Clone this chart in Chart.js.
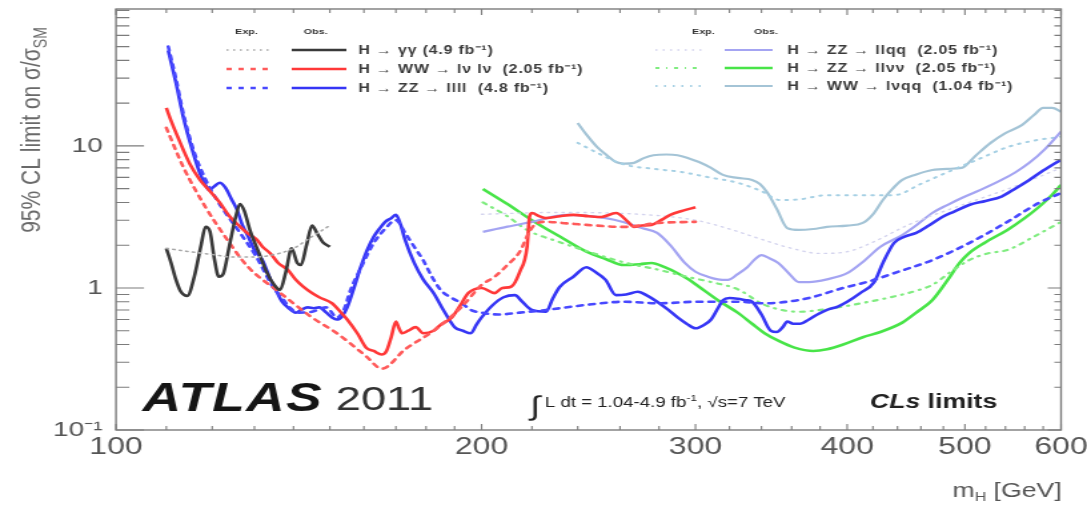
<!DOCTYPE html>
<html>
<head>
<meta charset="utf-8">
<script src="https://cdn.jsdelivr.net/npm/chart.js@4/dist/chart.umd.min.js"></script>
<style>
  html, body { margin: 0; padding: 0; background: #fff; overflow: hidden; }
  /* the figure is laid out on a narrow canvas and widened to the page */
  #wrap { width: 816px; height: 505px; transform: scaleX(1.33211); transform-origin: 0 0; }
  canvas { display: block; }
</style>
</head>
<body>
<div id="wrap"><canvas id="limits" width="816" height="505"></canvas></div>
<script>
// ---- axes ----
const massTicks = [100,110,120,130,140,150,160,170,180,190,200,220,240,260,280,300,320,340,360,380,400,420,440,460,480,500,520,540,560,580,600];
const massLabels = [100,200,300,400,500,600];
const limitTicks = [0.1, 1, 10];
const limitLabels = ['10\u207B\u00B9', '1', '10'];

// ---- H -> gamma gamma (4.9 fb-1) ----
const ggObsMass = [110,111,112,113,114.5,116,117.5,118.5,119.5,120.5,121.5,122.5,124,125.5,126.5,127.5,129,131,133,135,136.5,138,139.5,141,142,143.5,145,146.5,148,150];
const ggObs     = [1.9,1.5,1.15,0.95,0.88,1.2,2.0,2.7,2.5,1.6,1.2,1.25,2.0,3.2,3.9,3.5,2.5,1.8,1.3,1.05,0.97,1.3,1.9,1.5,1.45,2.0,2.75,2.4,2.1,1.95];
const ggExpMass = [110,115,120,125,130,135,140,145,150];
const ggExp     = [1.9,1.8,1.72,1.65,1.65,1.72,1.9,2.3,2.75];

// ---- H -> WW -> lvlv (2.05 fb-1) ----
const wwObsMass = [110,111,113.6,115,117.2,119.5,121.7,124,126.5,128.5,130.5,132,134,136,138.5,140.5,142.6,145,147,150.6,153,155,158,160.7,163,165.5,167,168.5,170,171,172,174,176.5,179,182.6,185,189,192,195,200,205,208,211.5,215,218,219,220,223,226,232,238,245,251,258,264,267,271,276,281,286,293,300];
const wwObs     = [18.5,15,9.4,7.5,5.8,4.8,4.0,3.2,2.7,2.4,2.2,1.95,1.75,1.5,1.34,1.15,1.02,0.92,0.86,0.78,0.68,0.6,0.48,0.38,0.36,0.34,0.36,0.45,0.58,0.52,0.48,0.5,0.53,0.48,0.5,0.55,0.62,0.75,0.92,1.0,0.92,1.0,1.02,1.3,1.95,3.17,3.37,3.2,3.1,3.2,3.27,3.2,3.16,3.37,2.92,2.69,2.75,2.78,3.0,3.27,3.5,3.7];
const wwExpMass = [110,113.6,118.5,123,128.5,136.6,145,152,160.7,165.5,173,182.6,192.7,200,205,210,215,219,222,226,235,244,262,280,300];
const wwExp     = [13.4,7.1,3.7,2.29,1.4,0.92,0.62,0.48,0.33,0.27,0.37,0.5,0.74,1.05,1.2,1.45,1.8,2.5,2.85,2.92,2.85,2.78,2.69,2.87,2.92];

// ---- H -> ZZ -> llll (4.8 fb-1) ----
const zz4lObsMass = [110.4,112,113.6,115.5,117.2,118.5,119.3,120.5,121.7,123,124.5,125.8,127,128.5,130,132,134,135.8,137,138.5,140.6,142,143.8,145.5,147,149,150.6,152,153.5,155,157,159,161,163,165,166.6,168.5,170,171.5,173,176,179,182.6,186,190,193,196,198,200,204,208.5,213,216,220,226,229,232,238,244,248,253,258,263,269,274,279,285,290,295,300,305,309,313,316,320,325,330,334,340,346,350,354,357,361,366,372,378,385,393,400,410,421,428,437,446,456,467,479,490,504,520,536,550,565,580,600];
const zz4lObs     = [47,28,16,9.5,6.45,5.3,4.9,5.2,5.5,5.1,4.2,3.54,2.8,2.29,1.85,1.57,1.15,0.92,0.8,0.73,0.67,0.7,0.73,0.72,0.73,0.67,0.62,0.6,0.63,0.73,1.0,1.4,1.85,2.29,2.65,2.92,3.1,3.27,2.8,2.18,1.5,1.15,0.92,0.7,0.53,0.5,0.48,0.55,0.62,0.75,0.86,0.89,0.8,0.7,0.68,0.85,1.02,1.2,1.4,1.3,1.14,0.89,0.9,0.94,0.88,0.8,0.7,0.62,0.56,0.52,0.55,0.6,0.72,0.82,0.85,0.84,0.82,0.8,0.65,0.5,0.49,0.53,0.58,0.56,0.56,0.6,0.65,0.7,0.74,0.8,0.92,1.1,1.5,2.07,2.3,2.44,2.75,3.16,3.45,3.84,4.1,4.4,5.0,5.76,6.7,8.0];
const zz4lExpMass = [110.4,112,113.6,116,118.5,121,123,126.5,130.5,134.6,137,139,141,145,149,152,154,156,159.5,163,166.5,170,173,176,179,182,185,189,192.7,196,200,206.5,215,226,244,262,280,302,325,342,357,372,397,418,437,470,504,542,575,600];
const zz4lExp     = [50,30,17,9,5.8,4.2,3.4,2.44,1.65,1.02,0.85,0.73,0.67,0.68,0.73,0.62,0.7,0.97,1.45,2.07,2.6,3.0,2.44,1.95,1.57,1.2,0.97,0.85,0.78,0.7,0.67,0.65,0.67,0.7,0.76,0.8,0.78,0.8,0.8,0.78,0.8,0.85,1.0,1.12,1.27,1.57,2.07,2.92,3.96,4.66];

// ---- H -> ZZ -> llqq (2.05 fb-1) ----
const llqqObsMass = [200.5,210,220,235,253,262,271,279,286,294,300,307,313,319,325,331,336,340,345,351,358,365,372,385,400,413,426,444,457,470,484,497,515,536,550,565,582,600];
const llqqObs     = [2.48,2.7,2.92,3.27,3.1,2.9,2.64,2.44,2.0,1.5,1.3,1.2,1.15,1.14,1.25,1.4,1.6,1.7,1.62,1.5,1.27,1.1,1.1,1.15,1.27,1.55,1.95,2.36,2.8,3.37,3.85,4.3,4.9,5.76,6.5,7.6,9.5,12.6];
const llqqExpMass = [200,230,270,300,320,340,360,380,400,420,450,500,550,600];
const llqqExp     = [3.3,3.4,3.3,3.0,2.6,2.2,1.9,1.75,1.8,2.1,2.8,3.9,5.2,7.0];

// ---- H -> ZZ -> llvv (2.05 fb-1) ----
const llvvObsMass = [200.5,210,220,232,244,253,262,270,276,283,290,296,302,313,325,334,342,352,362,375,385,397,412,426,444,457,470,484,495,504,520,542,560,575,588,600];
const llvvObs     = [4.98,3.9,3.0,2.3,1.8,1.6,1.45,1.47,1.5,1.4,1.27,1.15,1.02,0.82,0.67,0.56,0.48,0.42,0.38,0.36,0.37,0.4,0.45,0.49,0.57,0.68,0.82,1.14,1.5,1.76,2.1,2.56,3.1,3.7,4.4,5.3];
const llvvExpMass = [200.5,210,218,232,247,263,280,295,309,325,342,365,380,397,417,437,455,470,487,504,522,542,570,600];
const llvvExp     = [4.0,3.2,2.56,2.1,1.76,1.5,1.34,1.2,1.1,0.98,0.76,0.68,0.7,0.74,0.8,0.87,0.95,1.05,1.3,1.57,1.75,1.85,2.3,2.92];

// ---- H -> WW -> lvqq (1.04 fb-1) ----
const lvqqObsMass = [240,244,249,254,258,262,267,272,277,284,290,296,302,309,316,325,334,339,344,350,357,365,375,385,400,412,420,428,436,444,456,470,484,497,510,525,540,557,570,580,590,600];
const lvqqObs     = [14.5,12,9.8,8.5,7.7,7.5,7.6,8.2,8.6,8.7,8.6,8.2,7.7,7.0,6.25,5.95,5.76,5.4,4.66,3.6,2.64,2.56,2.6,2.69,2.75,2.87,3.3,4.16,5.0,5.76,6.3,6.77,6.9,7.0,8.5,10.5,12.3,14,16.5,18.5,18.5,17.4];
const lvqqExpMass = [240,250,262,277,292,308,325,340,352,365,385,410,437,460,484,512,542,570,600];
const lvqqExp     = [10.5,8.8,7.4,6.9,6.55,6.0,5.5,4.8,4.16,4.2,4.5,4.5,4.5,5.4,6.55,8.0,9.8,10.9,11.6];

const FONT = "'Liberation Sans', Arial, Helvetica, sans-serif";

function pts(xs, ys) { return xs.map((x, i) => ({ x: x, y: ys[i] })); }

// each channel: legend text, expected style, observed style
const channels = [
  { name: 'H \u2192 \u03B3\u03B3 (4.9 fb\u207B\u00B9)', block: 0, row: 0,
    exp: { m: ggExpMass, v: ggExp, color: '#a8a8a8', width: 1.6, dash: [1.5, 3.5] },
    obs: { m: ggObsMass, v: ggObs, color: '#3a3a3a', width: 2.6 } },
  { name: 'H \u2192 WW \u2192 l\u03BD l\u03BD  (2.05 fb\u207B\u00B9)', block: 0, row: 1,
    exp: { m: wwExpMass, v: wwExp, color: '#ff5a5a', width: 2.6, dash: [4, 5] },
    obs: { m: wwObsMass, v: wwObs, color: '#ff3838', width: 2.6 } },
  { name: 'H \u2192 ZZ \u2192 llll  (4.8 fb\u207B\u00B9)', block: 0, row: 2,
    exp: { m: zz4lExpMass, v: zz4lExp, color: '#4848ff', width: 2.6, dash: [4, 5] },
    obs: { m: zz4lObsMass, v: zz4lObs, color: '#3636f5', width: 2.6 } },
  { name: 'H \u2192 ZZ \u2192 llqq  (2.05 fb\u207B\u00B9)', block: 1, row: 0,
    exp: { m: llqqExpMass, v: llqqExp, color: '#d4d4ee', width: 1.4, dash: [1.5, 4] },
    obs: { m: llqqObsMass, v: llqqObs, color: '#a4a4f2', width: 2.2 } },
  { name: 'H \u2192 ZZ \u2192 ll\u03BD\u03BD  (2.05 fb\u207B\u00B9)', block: 1, row: 1,
    exp: { m: llvvExpMass, v: llvvExp, color: '#80ec80', width: 2.2, dash: [3, 5, 1, 5] },
    obs: { m: llvvObsMass, v: llvvObs, color: '#48e448', width: 2.6 } },
  { name: 'H \u2192 WW \u2192 l\u03BDqq  (1.04 fb\u207B\u00B9)', block: 1, row: 2,
    exp: { m: lvqqExpMass, v: lvqqExp, color: '#a6d0e4', width: 2, dash: [1.5, 5] },
    obs: { m: lvqqObsMass, v: lvqqObs, color: '#a4c4d6', width: 2.2 } }
];

const datasets = [];
channels.forEach(c => {
  datasets.push({ label: c.name + ' expected', data: pts(c.exp.m, c.exp.v), borderColor: c.exp.color,
    borderWidth: c.exp.width, borderDash: c.exp.dash, pointRadius: 0, fill: false,
    cubicInterpolationMode: 'monotone', borderCapStyle: 'round' });
  datasets.push({ label: c.name + ' observed', data: pts(c.obs.m, c.obs.v), borderColor: c.obs.color,
    borderWidth: c.obs.width, pointRadius: 0, fill: false,
    cubicInterpolationMode: 'monotone', borderJoinStyle: 'round' });
});

// frame with inward tick marks on all four sides
const framePlugin = {
  id: 'frame',
  afterDatasetsDraw(chart) {
    const { ctx, chartArea: a, scales } = chart;
    const xs = scales.x, ys = scales.y;
    ctx.save();
    ctx.strokeStyle = '#7c7c7c';
    ctx.lineWidth = 1.4;
    ctx.strokeRect(a.left, a.top, a.right - a.left, a.bottom - a.top);
    ctx.lineWidth = 1.1;
    ctx.beginPath();
    massTicks.forEach(m => {
      const px = xs.getPixelForValue(m);
      const len = massLabels.includes(m) ? 6 : 4;
      ctx.moveTo(px, a.bottom); ctx.lineTo(px, a.bottom - len);
      ctx.moveTo(px, a.top); ctx.lineTo(px, a.top + len);
    });
    [0.1, 1, 10].forEach(d => {
      for (let k = 1; k <= 9; k++) {
        const v = k * d;
        if (v > ys.max) break;
        const py = ys.getPixelForValue(v);
        const major = k === 1;
        ctx.moveTo(a.left, py); ctx.lineTo(a.left + (major ? 21 : 10), py);
        ctx.moveTo(a.right, py); ctx.lineTo(a.right - (major ? 10 : 5), py);
      }
    });
    ctx.stroke();
    ctx.restore();
  }
};

// draws a run of text pieces (normal / sub / super) starting at x
function drawRich(ctx, pieces, x, y) {
  pieces.forEach(p => {
    ctx.font = p.font;
    const dy = p.shift || 0;
    ctx.fillText(p.t, x, y + dy);
    x += ctx.measureText(p.t).width;
  });
  return x;
}
function richWidth(ctx, pieces) {
  let w = 0;
  pieces.forEach(p => { ctx.font = p.font; w += ctx.measureText(p.t).width; });
  return w;
}

const textPlugin = {
  id: 'texts',
  afterDraw(chart) {
    const { ctx } = chart;
    ctx.save();
    ctx.textBaseline = 'alphabetic';
    ctx.textAlign = 'left';

    // y axis title
    ctx.fillStyle = '#6a6a6a';
    const yTitle = [
      { t: '95% CL limit on \u03C3/\u03C3', font: '21px ' + FONT },
      { t: 'SM', font: '14px ' + FONT, shift: 5 }
    ];
    ctx.save();
    ctx.translate(30, 130);
    ctx.rotate(-Math.PI / 2);
    drawRich(ctx, yTitle, -richWidth(ctx, yTitle) / 2, 0);
    ctx.restore();

    // x axis title
    ctx.fillStyle = '#555';
    const xTitle = [
      { t: 'm', font: '20px ' + FONT },
      { t: 'H', font: '12px ' + FONT, shift: 4 },
      { t: ' [GeV]', font: '20px ' + FONT }
    ];
    drawRich(ctx, xTitle, 797 - richWidth(ctx, xTitle), 497);

    // experiment label
    ctx.fillStyle = '#151515';
    ctx.font = 'italic bold 40px ' + FONT;
    ctx.letterSpacing = '1px';
    ctx.fillText('ATLAS', 107, 411);
    ctx.letterSpacing = '0px';
    ctx.font = '34px ' + FONT;
    ctx.fillStyle = '#333';
    ctx.fillText('2011', 252, 410);

    // luminosity and energy
    ctx.fillStyle = '#222';
    ctx.font = '27px ' + FONT;
    ctx.fillText('\u222B', 398, 415);
    drawRich(ctx, [
      { t: 'L dt = 1.04-4.9 fb', font: '14px ' + FONT },
      { t: '-1', font: '9px ' + FONT, shift: -6 },
      { t: ', \u221As=7 TeV', font: '14px ' + FONT }
    ], 409, 407);

    ctx.fillStyle = '#222';
    drawRich(ctx, [
      { t: 'CLs', font: 'italic bold 20px ' + FONT },
      { t: ' limits', font: 'bold 20px ' + FONT }
    ], 653, 408);

    // legend
    const blocks = [
      { exp: [170, 205], obs: [219, 260], text: 269, hdr: [185, 237], rows: [50, 69, 88] },
      { exp: [492, 528], obs: [544, 580], text: 591, hdr: [528, 575], rows: [50, 68, 86] }
    ];
    ctx.fillStyle = '#333';
    ctx.font = 'bold 8px ' + FONT;
    ctx.textAlign = 'center';
    blocks.forEach(b => {
      ctx.fillText('Exp.', b.hdr[0], 34);
      ctx.fillText('Obs.', b.hdr[1], 34);
    });
    ctx.textAlign = 'left';
    channels.forEach((c, i) => {
      const b = blocks[c.block];
      const y = b.rows[c.row];
      const e = chart.data.datasets[2 * i], o = chart.data.datasets[2 * i + 1];
      ctx.beginPath();
      ctx.setLineDash(e.borderDash || []);
      ctx.strokeStyle = e.borderColor;
      ctx.lineWidth = e.borderWidth;
      ctx.moveTo(b.exp[0], y); ctx.lineTo(b.exp[1], y);
      ctx.stroke();
      ctx.beginPath();
      ctx.setLineDash([]);
      ctx.strokeStyle = o.borderColor;
      ctx.lineWidth = o.borderWidth;
      ctx.moveTo(b.obs[0], y); ctx.lineTo(b.obs[1], y);
      ctx.stroke();
      ctx.fillStyle = '#3a3a3a';
      ctx.font = 'bold 12px ' + FONT;
      ctx.letterSpacing = '0.6px';
      ctx.fillText(c.name, b.text, y + 4);
      ctx.letterSpacing = '0px';
    });
    ctx.restore();
  }
};

new Chart(document.getElementById('limits'), {
  type: 'line',
  data: { datasets: datasets },
  options: {
    responsive: false,
    animation: false,
    devicePixelRatio: 1,
    layout: { padding: { left: 0, right: 19.5, top: 9, bottom: 0 } },
    plugins: { legend: { display: false }, tooltip: { enabled: false } },
    scales: {
      x: {
        type: 'logarithmic', min: 100, max: 600,
        grid: { display: false, drawTicks: false }, border: { display: false },
        afterBuildTicks: s => { s.ticks = massTicks.map(v => ({ value: v })); },
        afterFit: s => { s.height = 75; s.paddingLeft = 0; s.paddingRight = 0; },
        ticks: {
          autoSkip: false, maxRotation: 0, minRotation: 0, padding: 3,
          color: '#555', font: { family: FONT, size: 24 },
          callback: v => massLabels.includes(v) ? String(v) : ''
        }
      },
      y: {
        type: 'logarithmic', min: 0.1, max: 92,
        grid: { display: false, drawTicks: false }, border: { display: false },
        afterBuildTicks: s => { s.ticks = limitTicks.map(v => ({ value: v })); },
        afterFit: s => { s.width = 87.1; s.paddingTop = 0; s.paddingBottom = 0; },
        ticks: {
          autoSkip: false, padding: 10, color: '#555', font: { family: FONT, size: 21 },
          callback: v => limitLabels[limitTicks.indexOf(v)]
        }
      }
    }
  },
  plugins: [framePlugin, textPlugin]
});
</script>
</body>
</html>
